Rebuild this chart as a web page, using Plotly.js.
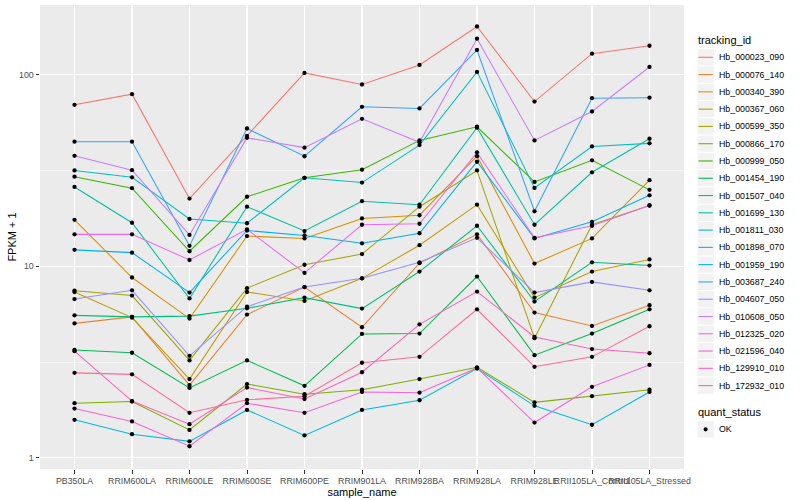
<!DOCTYPE html>
<html>
<head>
<meta charset="utf-8">
<script src="https://cdn.plot.ly/plotly-3.0.1.min.js"></script>
<style>
html,body{margin:0;padding:0;background:#fff;}
#chart{width:800px;height:500px;}
</style>
</head>
<body>
<div id="chart"></div>
<script>
// ---- data ----
const sample_names = ["PB350LA","RRIM600LA","RRIM600LE","RRIM600SE","RRIM600PE","RRIM901LA","RRIM928BA","RRIM928LA","RRIM928LE","RRII105LA_Control","RRII105LA_Stressed"];
const tracking_ids = ["Hb_000023_090","Hb_000076_140","Hb_000340_390","Hb_000367_060","Hb_000599_350","Hb_000866_170","Hb_000999_050","Hb_001454_190","Hb_001507_040","Hb_001699_130","Hb_001811_030","Hb_001898_070","Hb_001959_190","Hb_003687_240","Hb_004607_050","Hb_010608_050","Hb_012325_020","Hb_021596_040","Hb_129910_010","Hb_172932_010"];

const Hb_000023_090 = [69.8, 79.3, 22.6, 48.0, 102.4, 89.1, 112.7, 179, 72.6, 129, 142];
const Hb_000076_140 = [5.04, 5.45, 2.40, 5.6, 7.8, 4.81, 10.4, 14.7, 5.74, 4.89, 6.27];
const Hb_000340_390 = [17.5, 8.75, 5.34, 14.4, 14.0, 17.8, 18.5, 37.6, 10.35, 14.0, 28.2];
const Hb_000367_060 = [7.35, 5.40, 2.58, 7.35, 6.6, 8.66, 12.9, 21.0, 6.87, 9.4, 10.87];
const Hb_000599_350 = [7.46, 7.04, 3.23, 7.7, 10.2, 11.6, 20.5, 31.7, 4.22, 16.5, 20.8];
const Hb_000866_170 = [1.93, 1.97, 1.40, 2.43, 2.15, 2.27, 2.58, 2.97, 1.95, 2.10, 2.27];
const Hb_000999_050 = [29.4, 25.6, 12.0, 23.1, 29.0, 32.0, 45.5, 53.6, 27.6, 35.8, 25.1];
const Hb_001454_190 = [3.66, 3.54, 2.32, 3.23, 2.38, 4.44, 4.46, 8.85, 3.44, 4.46, 5.97];
const Hb_001507_040 = [5.55, 5.45, 5.50, 6.04, 6.87, 6.02, 9.4, 16.3, 6.55, 10.5, 10.1];
const Hb_001699_130 = [26.0, 16.9, 6.8, 20.5, 15.3, 21.9, 21.0, 53.0, 16.5, 31.0, 46.4];
const Hb_001811_030 = [31.7, 29.2, 17.7, 16.8, 29.0, 27.4, 43.0, 103.7, 25.7, 42.3, 43.9];
const Hb_001898_070 = [1.58, 1.33, 1.22, 1.78, 1.31, 1.78, 2.00, 2.93, 1.87, 1.49, 2.21];
const Hb_001959_190 = [12.2, 11.8, 7.3, 15.4, 14.5, 13.2, 14.9, 35.2, 14.0, 17.1, 23.5];
const Hb_003687_240 = [44.8, 44.8, 12.8, 52.5, 37.6, 68.1, 66.8, 134.9, 19.4, 75.6, 76.0];
const Hb_004607_050 = [6.75, 7.5, 3.41, 6.16, 7.8, 8.66, 10.5, 14.1, 7.3, 8.3, 7.5];
const Hb_010608_050 = [37.8, 31.8, 14.6, 46.9, 41.7, 59.0, 44.5, 154.6, 45.5, 64.4, 110];
const Hb_012325_020 = [14.7, 14.7, 10.8, 15.6, 9.25, 16.5, 16.7, 39.4, 14.1, 16.3, 20.8];
const Hb_021596_040 = [1.81, 1.55, 1.15, 1.93, 1.72, 2.21, 2.19, 2.95, 1.53, 2.35, 3.06];
const Hb_129910_010 = [3.61, 1.98, 1.50, 2.33, 2.03, 2.80, 4.98, 7.39, 4.28, 3.70, 3.52];
const Hb_172932_010 = [2.78, 2.73, 1.72, 2.01, 2.10, 3.14, 3.37, 5.97, 2.99, 3.37, 4.87];

const series_values = [Hb_000023_090, Hb_000076_140, Hb_000340_390, Hb_000367_060, Hb_000599_350, Hb_000866_170, Hb_000999_050, Hb_001454_190, Hb_001507_040, Hb_001699_130, Hb_001811_030, Hb_001898_070, Hb_001959_190, Hb_003687_240, Hb_004607_050, Hb_010608_050, Hb_012325_020, Hb_021596_040, Hb_129910_010, Hb_172932_010];

const y_tick_values = [1, 10, 100];
const y_tick_labels = ["1", "10", "100"];
const y_minor_values = [3.1623, 31.623];
const quant_status = ["OK"];

// ---- ggplot2 hue palette (hcl, c=100, l=65) ----
function hcl2hex(h, c, l) {
  const WY = 100, Wu = 0.1978398, Wv = 0.4683363;
  const hr = h * Math.PI / 180;
  const U = c * Math.cos(hr), V = c * Math.sin(hr);
  const Y = WY * (l > 7.999592 ? Math.pow((l + 16) / 116, 3) : l / 903.3);
  const u = U / (13 * l) + Wu, v = V / (13 * l) + Wv;
  const X = 9 * Y * u / (4 * v);
  const Z = -X / 3 - 5 * Y + 3 * Y / v;
  const g = t => t > 0.00304 ? 1.055 * Math.pow(t, 1 / 2.4) - 0.055 : 12.92 * t;
  const ch = t => Math.round(Math.max(0, Math.min(1, t)) * 255).toString(16).padStart(2, "0");
  const R = g((3.240479 * X - 1.537150 * Y - 0.498535 * Z) / WY);
  const G = g((-0.969256 * X + 1.875992 * Y + 0.041556 * Z) / WY);
  const B = g((0.055648 * X - 0.204043 * Y + 1.057311 * Z) / WY);
  return "#" + ch(R) + ch(G) + ch(B);
}
const n = tracking_ids.length;
const colors = tracking_ids.map((_, i) => hcl2hex(15 + i * 360 / n, 100, 65));

// ---- traces ----
const traces = [];
tracking_ids.forEach((id, i) => {
  traces.push({
    type: "scatter", mode: "lines", name: id,
    x: sample_names, y: series_values[i],
    line: {color: colors[i], width: 1.05},
    showlegend: false, hoverinfo: "skip"
  });
});
tracking_ids.forEach((id, i) => {
  traces.push({
    type: "scatter", mode: "markers", name: id + " " + quant_status[0],
    x: sample_names, y: series_values[i],
    marker: {color: "#000000", size: 4.3, symbol: "circle", line: {width: 0}},
    showlegend: false, hoverinfo: "skip"
  });
});

// ---- layout geometry (pixels) ----
const W = 800, H = 500;
const L = 40, R = 684, T = 5, B = 469;
const px = x => (x - L) / (R - L);
const py = y => (B - y) / (B - T);
const FONT = "Liberation Sans, Arial, Helvetica, sans-serif";

const shapes = [];
const annotations = [];
// legend: tracking_id
annotations.push({xref: "paper", yref: "paper", x: px(696), y: py(39.5), xanchor: "left", yanchor: "middle",
  text: "tracking_id", showarrow: false, font: {family: FONT, size: 11, color: "#000"}});
const keyX0 = 697, keyS = 17.28, firstY = 57.3;
tracking_ids.forEach((id, i) => {
  const cy = firstY + i * keyS;
  shapes.push({type: "rect", xref: "paper", yref: "paper",
    x0: px(keyX0 + 0.5), x1: px(keyX0 + keyS - 0.5), y0: py(cy - keyS / 2 + 0.5), y1: py(cy + keyS / 2 - 0.5),
    fillcolor: "#F2F2F2", line: {width: 0}});
  shapes.push({type: "line", xref: "paper", yref: "paper",
    x0: px(keyX0 + 1.5), x1: px(keyX0 + keyS - 1.5), y0: py(cy), y1: py(cy),
    line: {color: colors[i], width: 1.1}});
  annotations.push({xref: "paper", yref: "paper", x: px(716.5), y: py(cy), xanchor: "left", yanchor: "middle",
    text: id, showarrow: false, font: {family: FONT, size: 8.8, color: "#000"}});
});
// legend: quant_status
annotations.push({xref: "paper", yref: "paper", x: px(696), y: py(412.3), xanchor: "left", yanchor: "middle",
  text: "quant_status", showarrow: false, font: {family: FONT, size: 11, color: "#000"}});
const okY = 429.3;
shapes.push({type: "rect", xref: "paper", yref: "paper",
  x0: px(keyX0 + 0.5), x1: px(keyX0 + keyS - 0.5), y0: py(okY - keyS / 2 + 0.5), y1: py(okY + keyS / 2 - 0.5),
  fillcolor: "#F2F2F2", line: {width: 0}});
shapes.push({type: "circle", xref: "paper", yref: "paper",
  x0: px(keyX0 + keyS / 2 - 2.1), x1: px(keyX0 + keyS / 2 + 2.1), y0: py(okY - 2.1), y1: py(okY + 2.1),
  fillcolor: "#000", line: {width: 0}});
annotations.push({xref: "paper", yref: "paper", x: px(716.5), y: py(okY), xanchor: "left", yanchor: "middle",
  text: quant_status[0], showarrow: false, font: {family: FONT, size: 8.8, color: "#000"}});

const layout = {
  width: W, height: H,
  margin: {l: L, r: W - R, t: T, b: H - B, pad: 0},
  paper_bgcolor: "#FFFFFF", plot_bgcolor: "#EBEBEB",
  font: {family: FONT, size: 8.8, color: "#4D4D4D"},
  showlegend: false,
  xaxis: {
    type: "category", range: [-0.6, sample_names.length - 0.4],
    showgrid: true, gridcolor: "#FFFFFF", gridwidth: 1.07,
    zeroline: false, showline: false,
    ticks: "outside", ticklen: 3.5, tickwidth: 1, tickcolor: "#333333",
    tickangle: 0, tickfont: {family: FONT, size: 8.8, color: "#4D4D4D"},
    title: {text: "sample_name", font: {family: FONT, size: 11, color: "#000"}, standoff: 0},
    automargin: false, fixedrange: true
  },
  yaxis: {
    type: "log", range: [-0.058, 2.365],
    tickmode: "array", tickvals: y_tick_values, ticktext: y_tick_labels,
    showgrid: true, gridcolor: "#FFFFFF", gridwidth: 1.07,
    minor: {tickmode: "array", tickvals: y_minor_values, showgrid: true, gridcolor: "#FFFFFF", gridwidth: 0.53, ticks: ""},
    zeroline: false, showline: false,
    ticks: "outside", ticklen: 3.5, tickwidth: 1, tickcolor: "#333333",
    tickfont: {family: FONT, size: 8.8, color: "#4D4D4D"},
    title: {text: "FPKM + 1", font: {family: FONT, size: 11, color: "#000"}, standoff: 0},
    automargin: false, fixedrange: true
  },
  shapes: shapes,
  annotations: annotations
};

Plotly.newPlot("chart", traces, layout, {staticPlot: true, displayModeBar: false});
</script>
</body>
</html>
